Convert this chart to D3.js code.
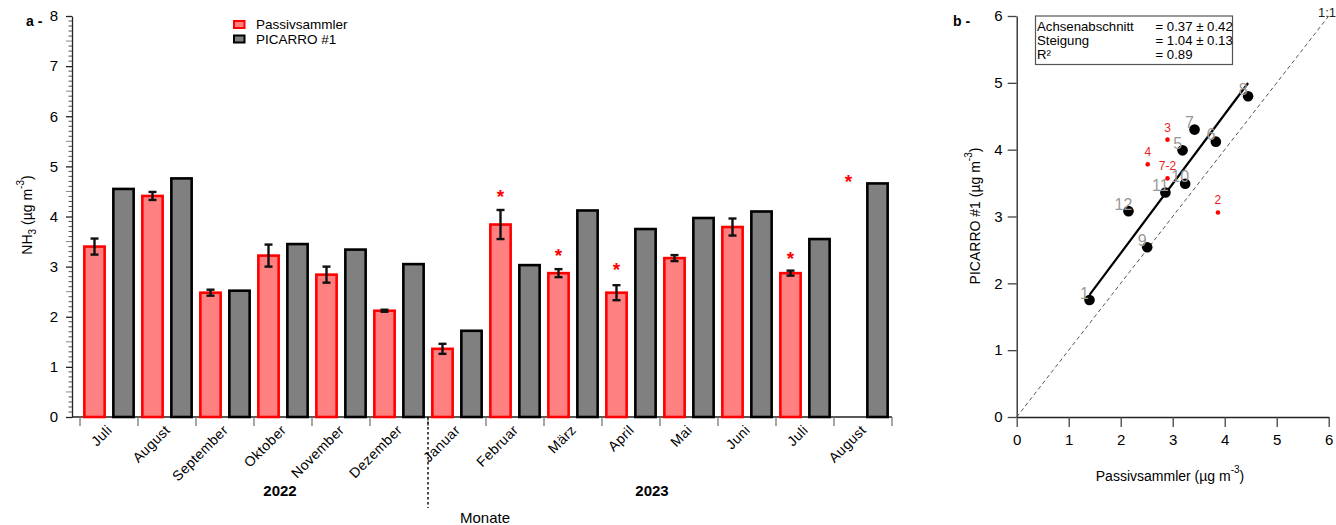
<!DOCTYPE html>
<html>
<head>
<meta charset="utf-8">
<script src="https://cdn.jsdelivr.net/npm/d3@7"></script>
<style>
  body { margin: 0; background: #fff; }
  svg { display: block; font-family: "Liberation Sans", Arial, sans-serif; }
</style>
</head>
<body>
<svg id="chart" width="1336" height="525"></svg>
<script>
// ---- Monthly NH3 means (µg m-3), July 2022 – August 2023 ----
const months = ["Juli", "August", "September", "Oktober", "November", "Dezember",
                "Januar", "Februar", "März", "April", "Mai", "Juni", "Juli", "August"];
const passive    = [3.40, 4.41, 2.48, 3.22, 2.84, 2.12, 1.36, 3.84, 2.87, 2.48, 3.17, 3.79, 2.87, null];
const passiveErr = [0.16, 0.08, 0.06, 0.22, 0.16, 0.02, 0.10, 0.29, 0.08, 0.15, 0.06, 0.17, 0.05, null];
const picarro    = [4.55, 4.76, 2.52, 3.45, 3.34, 3.05, 1.72, 3.03, 4.12, 3.75, 3.97, 4.10, 3.55, 4.66];
// months marked with an asterisk and the height of the asterisk
const flaggedMonths = [7, 8, 9, 12, 13];
const flagLevels    = [4.43, 3.25, 2.98, 3.19, 4.73];
const seriesNames = ["Passivsammler", "PICARRO #1"];
const yTicksA = [0, 1, 2, 3, 4, 5, 6, 7, 8];

// ---- Scatter: passive sampler vs PICARRO, labelled by month number ----
const fitLabels = ["1", "5", "6", "7", "8", "9", "10", "11", "12"];
const fitX      = [1.40, 3.19, 3.83, 3.42, 4.45, 2.51, 3.24, 2.86, 2.15];
const fitY      = [1.75, 3.99, 4.12, 4.30, 4.80, 2.54, 3.49, 3.36, 3.08];
const excLabels = ["2", "3", "4", "7-2"];
const excX      = [3.87, 2.90, 2.52, 2.90];
const excY      = [3.06, 4.15, 3.78, 3.57];
const fitIntercept = 0.37;
const fitSlope = 1.04;
const statsNames  = ["Achsenabschnitt", "Steigung", "R²"];
const statsValues = ["= 0.37 ± 0.42", "= 1.04 ± 0.13", "= 0.89"];
const ticksB = [0, 1, 2, 3, 4, 5, 6];

const svg = d3.select("#chart");
svg.append("rect").attr("width", 1336).attr("height", 525).attr("fill", "#fff");

// =================== Panel a: bar chart ===================
const A = { left: 72, right: 892, top: 16, bottom: 417, bandStart: 80 };
const idx = d3.range(months.length);
const x = d3.scaleBand().domain(idx).range([A.bandStart, A.right]).padding(0);
const sub = d3.scaleBand().domain([0, 1]).range([0, x.bandwidth()])
  .paddingInner(0.3).paddingOuter(0.15);
const y = d3.scaleLinear().domain([0, 8]).range([A.bottom, A.top]);

const gA = svg.append("g");

// minor ticks on the y axis (every 0.1, slightly longer at the half units)
const minor = d3.range(1, 80).filter(v => v % 10 !== 0).map(v => v / 10);
gA.append("g").selectAll("line").data(minor).join("line")
  .attr("x1", d => (Math.round(d * 10) % 5 === 0) ? A.left - 6 : A.left - 3.5)
  .attr("x2", A.left)
  .attr("y1", d => y(d)).attr("y2", d => y(d))
  .attr("stroke", d => (Math.round(d * 10) % 5 === 0) ? "#888" : "#555")
  .attr("stroke-width", 1);

const yAxisA = d3.axisLeft(y).tickValues(yTicksA).tickSize(6).tickSizeOuter(0).tickPadding(8);
gA.append("g").attr("transform", `translate(${A.left},0)`).call(yAxisA)
  .call(g => g.select(".domain").attr("stroke", "#222").attr("stroke-width", 1.3))
  .call(g => g.selectAll(".tick line").attr("stroke", "#222").attr("stroke-width", 1.3))
  .call(g => g.selectAll(".tick text").attr("font-size", 15).attr("fill", "#000")
    .attr("font-family", "Liberation Sans, Arial, sans-serif"));

// x axis line and category boundary ticks
gA.append("line").attr("x1", A.left).attr("x2", A.right)
  .attr("y1", A.bottom).attr("y2", A.bottom).attr("stroke", "#222").attr("stroke-width", 1.3);
const bounds = idx.map(i => x(i)).concat([x(idx.length - 1) + x.bandwidth()]);
gA.append("g").selectAll("line").data(bounds).join("line")
  .attr("x1", d => d).attr("x2", d => d)
  .attr("y1", A.bottom).attr("y2", A.bottom + 9)
  .attr("stroke", "#777").attr("stroke-width", 1.3);

// PICARRO bars
gA.append("g").selectAll("rect").data(idx).join("rect")
  .attr("x", i => x(i) + sub(1)).attr("width", sub.bandwidth())
  .attr("y", i => y(picarro[i])).attr("height", i => y(0) - y(picarro[i]))
  .attr("fill", "#808080").attr("stroke", "#000").attr("stroke-width", 2.6);

// passive sampler bars
const pIdx = idx.filter(i => passive[i] != null);
gA.append("g").selectAll("rect").data(pIdx).join("rect")
  .attr("x", i => x(i) + sub(0)).attr("width", sub.bandwidth())
  .attr("y", i => y(passive[i])).attr("height", i => y(0) - y(passive[i]))
  .attr("fill", "#ff8080").attr("stroke", "#ff0000").attr("stroke-width", 2.6);

// error bars
const eb = gA.append("g").attr("stroke", "#111").attr("stroke-width", 2.4);
pIdx.forEach(i => {
  const cx = x(i) + sub(0) + sub.bandwidth() / 2;
  const lo = y(passive[i] - passiveErr[i]), hi = y(passive[i] + passiveErr[i]);
  eb.append("line").attr("x1", cx).attr("x2", cx).attr("y1", lo).attr("y2", hi);
  eb.append("line").attr("x1", cx - 4).attr("x2", cx + 4).attr("y1", lo).attr("y2", lo);
  eb.append("line").attr("x1", cx - 4).attr("x2", cx + 4).attr("y1", hi).attr("y2", hi);
});

// asterisks
gA.append("g").selectAll("text").data(flaggedMonths).join("text")
  .attr("x", i => x(i) + sub(0) + sub.bandwidth() / 2)
  .attr("y", (i, k) => y(flagLevels[k]) + 8)
  .attr("text-anchor", "middle").attr("font-size", 19).attr("font-weight", "bold")
  .attr("fill", "#ff0000")
  .text("*");

// month labels
gA.append("g").selectAll("text").data(idx).join("text")
  .attr("transform", i => `translate(${x(i) + x.bandwidth() / 2 + 4},${A.bottom + 14}) rotate(-45)`)
  .attr("text-anchor", "end").attr("font-size", 14).attr("fill", "#000")
  .attr("letter-spacing", 0.4)
  .text(i => months[i]);

// year separator
gA.append("line").attr("x1", x(6)).attr("x2", x(6))
  .attr("y1", A.bottom).attr("y2", 508)
  .attr("stroke", "#000").attr("stroke-width", 1.4).attr("stroke-dasharray", "2.5,2.5");

gA.append("text").attr("x", x(3) + 26).attr("y", 496).attr("text-anchor", "middle")
  .attr("font-size", 15).attr("font-weight", "bold").text("2022");
gA.append("text").attr("x", x(10) - 8).attr("y", 496).attr("text-anchor", "middle")
  .attr("font-size", 15).attr("font-weight", "bold").text("2023");
gA.append("text").attr("x", 485).attr("y", 523).attr("text-anchor", "middle")
  .attr("font-size", 15).text("Monate");

// y label
const ylA = gA.append("text").attr("transform", "translate(32,215) rotate(-90)")
  .attr("text-anchor", "middle").attr("font-size", 14).attr("fill", "#000");
ylA.append("tspan").text("NH");
ylA.append("tspan").attr("dy", 4).attr("font-size", 10).text("3");
ylA.append("tspan").attr("dy", -4).text(" (µg m");
ylA.append("tspan").attr("dy", -8).attr("font-size", 10).text("-3");
ylA.append("tspan").attr("dy", 8).text(")");

gA.append("text").attr("x", 26).attr("y", 26).attr("font-size", 14)
  .attr("font-weight", "bold").text("a -");

// legend
const legendColors = [["#ff8080", "#ff0000"], ["#808080", "#000"]];
const lg = gA.append("g").attr("transform", "translate(234,21)");
seriesNames.forEach((name, k) => {
  lg.append("rect").attr("x", 0).attr("y", k * 14.5).attr("width", 10.5).attr("height", 7)
    .attr("fill", legendColors[k][0]).attr("stroke", legendColors[k][1]).attr("stroke-width", 2);
  lg.append("text").attr("x", 22).attr("y", k * 14.5 + 8).attr("font-size", 13.5)
    .attr("fill", "#000").text(name);
});

// =================== Panel b: scatter ===================
const B = { left: 1016.7, right: 1328.7, top: 16, bottom: 417 };
const xs = d3.scaleLinear().domain([0, 6]).range([B.left, B.right]);
const ys = d3.scaleLinear().domain([0, 6]).range([B.bottom, B.top]);
const gB = svg.append("g");

const styleAxis = g => {
  g.select(".domain").attr("stroke", "#222").attr("stroke-width", 1.3);
  g.selectAll(".tick line").attr("stroke", "#444").attr("stroke-width", 1.3);
  g.selectAll(".tick text").attr("font-size", 15).attr("fill", "#000")
    .attr("font-family", "Liberation Sans, Arial, sans-serif");
};
gB.append("g").attr("transform", `translate(0,${B.bottom})`)
  .call(d3.axisBottom(xs).tickValues(ticksB).tickFormat(d3.format("d"))
    .tickSize(10).tickSizeOuter(0).tickPadding(7))
  .call(styleAxis);
gB.append("g").attr("transform", `translate(${B.left},0)`)
  .call(d3.axisLeft(ys).tickValues(ticksB).tickFormat(d3.format("d"))
    .tickSize(9).tickSizeOuter(0).tickPadding(5))
  .call(styleAxis);

// 1:1 line
gB.append("line").attr("x1", xs(0)).attr("y1", ys(0)).attr("x2", xs(6)).attr("y2", ys(6))
  .attr("stroke", "#555").attr("stroke-width", 1).attr("stroke-dasharray", "4,3");
gB.append("text").attr("x", 1336).attr("y", 17).attr("text-anchor", "end")
  .attr("font-size", 13).attr("fill", "#222").text("1:1");

// regression line over the range of fitted points
const [x0, x1] = d3.extent(fitX);
gB.append("line").attr("x1", xs(x0)).attr("y1", ys(fitIntercept + fitSlope * x0))
  .attr("x2", xs(x1)).attr("y2", ys(fitIntercept + fitSlope * x1))
  .attr("stroke", "#000").attr("stroke-width", 2.2);

// excluded points (red)
gB.append("g").selectAll("circle").data(excX).join("circle")
  .attr("cx", (d, k) => xs(d)).attr("cy", (d, k) => ys(excY[k])).attr("r", 2.3)
  .attr("fill", "#ff0000");
gB.append("g").selectAll("text").data(excX).join("text")
  .attr("x", (d, k) => xs(d)).attr("y", (d, k) => ys(excY[k]) - 8)
  .attr("text-anchor", "middle").attr("font-size", 12).attr("fill", "#ee2222")
  .text((d, k) => excLabels[k]);

// fitted points (black) and their month numbers
gB.append("g").selectAll("circle").data(fitX).join("circle")
  .attr("cx", d => xs(d)).attr("cy", (d, k) => ys(fitY[k])).attr("r", 5.3)
  .attr("fill", "#000");
gB.append("g").selectAll("text").data(fitX).join("text")
  .attr("x", d => xs(d) - 5).attr("y", (d, k) => ys(fitY[k]) - 1.5)
  .attr("text-anchor", "middle").attr("font-size", 16).attr("fill", "#999")
  .text((d, k) => fitLabels[k]);

// statistics box
gB.append("rect").attr("x", 1035.5).attr("y", 16).attr("width", 197).attr("height", 48.5)
  .attr("fill", "#fff").attr("stroke", "#555").attr("stroke-width", 1.2);
statsNames.forEach((n, k) => {
  gB.append("text").attr("x", 1037).attr("y", 30.5 + k * 14.3).attr("font-size", 13.2)
    .attr("fill", "#000").text(n);
  gB.append("text").attr("x", 1155.5).attr("y", 30.5 + k * 14.3).attr("font-size", 13.2)
    .attr("fill", "#000").text(statsValues[k]);
});

// axis titles
const xlB = gB.append("text").attr("x", 1170).attr("y", 481).attr("text-anchor", "middle")
  .attr("font-size", 14).attr("fill", "#000");
xlB.append("tspan").text("Passivsammler (µg m");
xlB.append("tspan").attr("dy", -8).attr("font-size", 10).text("-3");
xlB.append("tspan").attr("dy", 8).text(")");

const ylB = gB.append("text").attr("transform", "translate(980,216) rotate(-90)")
  .attr("text-anchor", "middle").attr("font-size", 14).attr("fill", "#000");
ylB.append("tspan").text("PICARRO #1 (µg m");
ylB.append("tspan").attr("dy", -8).attr("font-size", 10).text("-3");
ylB.append("tspan").attr("dy", 8).text(")");

gB.append("text").attr("x", 953).attr("y", 26).attr("font-size", 14)
  .attr("font-weight", "bold").text("b -");
</script>
</body>
</html>
